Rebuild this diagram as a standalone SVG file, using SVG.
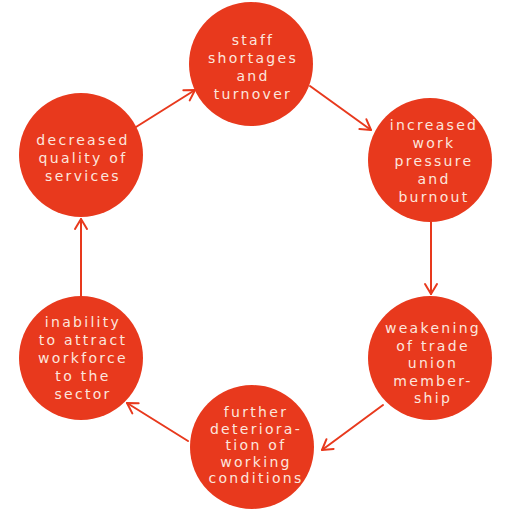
<svg xmlns="http://www.w3.org/2000/svg" width="512" height="512" viewBox="0 0 512 512">
<defs>
<marker id="ah" markerUnits="userSpaceOnUse" markerWidth="24" markerHeight="24" viewBox="-12 -12 24 24" refX="0" refY="0" orient="auto">
<path d="M-10,-6 L0,0 L-10,6" fill="none" stroke="#E8391D" stroke-width="2" stroke-linecap="round" stroke-linejoin="round"/>
</marker>
<style>
.n{fill:#E8391D}
.t{font-family:"DejaVu Sans","Open Sans",sans-serif;font-size:14px;letter-spacing:2.3px;fill:#FCE6DE;text-anchor:middle}
.c{fill:none;stroke:#E8391D;stroke-width:2;stroke-linecap:round;marker-end:url(#ah)}
</style>
</defs>
<rect width="512" height="512" fill="#fff"/>
<g id="connectors">
<line class="c" x1="136" y1="127" x2="195" y2="90"/>
<line class="c" x1="310" y1="86" x2="371" y2="130"/>
<line class="c" x1="431" y1="222" x2="431" y2="294"/>
<line class="c" x1="383" y1="405" x2="322" y2="450"/>
<line class="c" x1="188" y1="441" x2="127" y2="403"/>
<line class="c" x1="81" y1="296" x2="81" y2="219"/>
</g>
<g id="n1"><circle class="n" cx="251" cy="64" r="62"/>
<text class="t" x="253" y="45">staff</text><text class="t" x="253" y="63">shortages</text><text class="t" x="253" y="81">and</text><text class="t" x="253" y="99">turnover</text></g>
<g id="n2"><circle class="n" cx="430" cy="160" r="62"/>
<text class="t" x="434" y="130">increased</text><text class="t" x="434" y="148">work</text><text class="t" x="434" y="166">pressure</text><text class="t" x="434" y="184">and</text><text class="t" x="434" y="202">burnout</text></g>
<g id="n3"><circle class="n" cx="430" cy="358" r="62"/>
<text class="t" x="433" y="333">weakening</text><text class="t" x="433" y="350.5">of trade</text><text class="t" x="433" y="368">union</text><text class="t" x="433" y="385.5">member-</text><text class="t" x="433" y="403">ship</text></g>
<g id="n4"><circle class="n" cx="252" cy="447" r="62"/>
<text class="t" x="256" y="417">further</text><text class="t" x="256" y="433.5">deteriora-</text><text class="t" x="256" y="450">tion of</text><text class="t" x="256" y="466.5">working</text><text class="t" x="256" y="483">conditions</text></g>
<g id="n5"><circle class="n" cx="81" cy="358" r="62"/>
<text class="t" x="83" y="327">inability</text><text class="t" x="83" y="345">to attract</text><text class="t" x="83" y="363">workforce</text><text class="t" x="83" y="381">to the</text><text class="t" x="83" y="399">sector</text></g>
<g id="n6"><circle class="n" cx="81" cy="155" r="62"/>
<text class="t" x="83" y="145">decreased</text><text class="t" x="83" y="163">quality of</text><text class="t" x="83" y="181">services</text></g>
</svg>
